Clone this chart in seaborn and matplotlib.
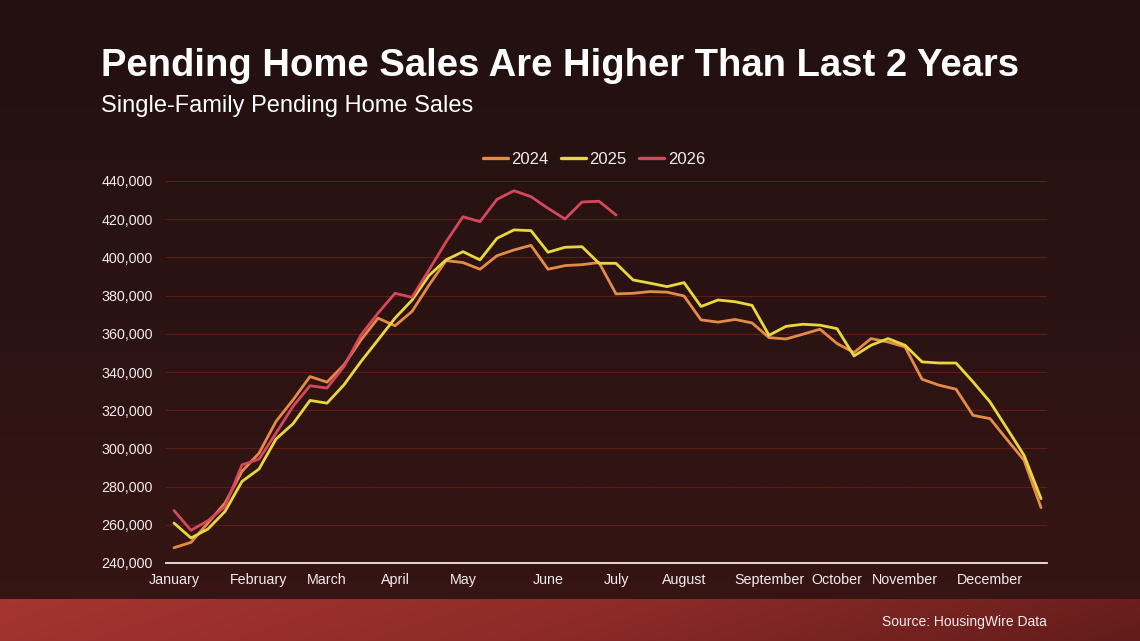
import numpy as np
import pandas as pd
import matplotlib
matplotlib.use("Agg")
import matplotlib.pyplot as plt
from matplotlib.colors import LinearSegmentedColormap
from matplotlib.ticker import FuncFormatter
import seaborn as sns

# ---------------- data ----------------
months = ["January", "February", "March", "April", "May", "June", "July",
          "August", "September", "October", "November", "December"]
month_week = [0, 5, 9, 13, 17, 22, 26, 30, 35, 39, 43, 48]

sales_2024 = [248000, 250800, 261000, 271400, 288000, 297500, 314100, 325400,
              337600, 334700, 343700, 356800, 368200, 364200, 371700, 385500,
              398300, 397300, 393800, 400900, 403900, 406300, 393800, 395700,
              396200, 397300, 380900, 381200, 382100, 381800, 379800, 367300,
              366100, 367500, 365700, 358000, 357300, 359800, 362400, 354900,
              350200, 357500, 355700, 353100, 336200, 333100, 331000, 317300,
              315600, 304600, 293800, 269000]
sales_2025 = [260900, 253100, 257800, 267000, 282700, 289200, 304900, 312900,
              325100, 323700, 333300, 345500, 356800, 368200, 377600, 390500,
              398700, 403000, 398700, 410000, 414400, 414000, 402700, 405300,
              405600, 396900, 396900, 388200, 386500, 384700, 386800, 374300,
              377700, 376800, 374900, 359200, 363900, 365000, 364500, 362700,
              348400, 354000, 357500, 354000, 345300, 344700, 344700, 334800,
              324300, 310400, 296400, 273700]
sales_2026 = [267500, 257100, 262200, 269500, 291400, 294400, 308000, 322000,
              332800, 331600, 342900, 359400, 370800, 381200, 379100, 393400,
              408100, 421300, 418700, 430400, 434900, 431800, 425700, 420100,
              429000, 429400, 422200]
years = ["2024", "2025", "2026"]
y_ticks = [240000, 260000, 280000, 300000, 320000, 340000, 360000, 380000,
           400000, 420000, 440000]

frames = []
for yr, vals in zip(years, [sales_2024, sales_2025, sales_2026]):
    frames.append(pd.DataFrame({"week": np.arange(len(vals)), "sales": vals, "year": yr}))
df = pd.concat(frames, ignore_index=True)

# ---------------- style ----------------
sns.set_theme(style="dark")
plt.rcParams["font.family"] = ["Liberation Sans", "DejaVu Sans"]

W, H = 1140, 641
fig = plt.figure(figsize=(W / 100, H / 100), dpi=100)

# background gradient
bg = fig.add_axes([0, 0, 1, 1], zorder=-10)
bg_cmap = LinearSegmentedColormap.from_list("bg", ["#221010", "#2c1313", "#371513"])
grad = np.linspace(0, 1, 256).reshape(-1, 1)
bg.imshow(grad, aspect="auto", cmap=bg_cmap, extent=[0, 1, 1, 0])
bg.set_axis_off()

# footer band
ft = fig.add_axes([0, 0, 1, 42 / H], zorder=-5)
ft_cmap = LinearSegmentedColormap.from_list("ft", ["#a63430", "#8e2b28", "#621c1b"])
xx, yy = np.meshgrid(np.linspace(0, 1, 400), np.linspace(0, 1, 40))
ft.imshow(xx * 0.9 + yy * 0.1, aspect="auto", cmap=ft_cmap, vmin=0, vmax=1)
ft.set_axis_off()

# main axes
left, right = 166 / W, 1047 / W
bottom, top = 1 - 563 / H, 1 - 181 / H
ax = fig.add_axes([left, bottom, right - left, top - bottom])
ax.set_facecolor("none")

palette = {"2024": "#e48c47", "2025": "#e9d83c", "2026": "#d6475b"}
sns.lineplot(data=df, x="week", y="sales", hue="year", palette=palette,
             linewidth=2.0, ax=ax, legend=False, sort=False)

ax.set_xlim(-0.47, 51.35)
ax.set_ylim(240000, 440000)
ax.set_yticks(y_ticks)
ax.yaxis.set_major_formatter(FuncFormatter(lambda v, p: f"{int(v):,}"))
ax.set_xticks(month_week)
ax.set_xticklabels(months)
ax.set_xlabel("")
ax.set_ylabel("")

ax.grid(axis="y", color="#5e1c15", linewidth=0.8)
ax.grid(axis="x", visible=False)
for s in ["top", "right", "left"]:
    ax.spines[s].set_visible(False)
ax.spines["bottom"].set_visible(True)
ax.spines["bottom"].set_color("#f0e8e8")
ax.spines["bottom"].set_linewidth(1.3)
ax.tick_params(axis="y", length=0, pad=9.4, labelsize=10.3, labelcolor="#f4ecec")
ax.tick_params(axis="x", length=0, pad=7.5, labelsize=10.3, labelcolor="#f4ecec")

# legend
handles = [plt.Line2D([], [], color=palette[y], linewidth=2.4) for y in years]
fig.legend(handles, years, loc="center", bbox_to_anchor=(594 / W, 1 - 159 / H),
           ncol=3, frameon=False, fontsize=12, handlelength=1.5,
           handletextpad=0.2, columnspacing=0.75, labelcolor="#f4ecec")

# titles
fig.text(101 / W, 1 - 76 / H, "Pending Home Sales Are Higher Than Last 2 Years",
         fontsize=27.5, fontweight="bold", color="white", ha="left", va="baseline")
fig.text(101 / W, 1 - 112 / H, "Single-Family Pending Home Sales",
         fontsize=17, color="white", ha="left", va="baseline")
fig.text(1047 / W, 1 - 622 / H, "Source: HousingWire Data",
         fontsize=10, color="#f4ecec", ha="right", va="center")

fig.savefig("out.png", dpi=100)
